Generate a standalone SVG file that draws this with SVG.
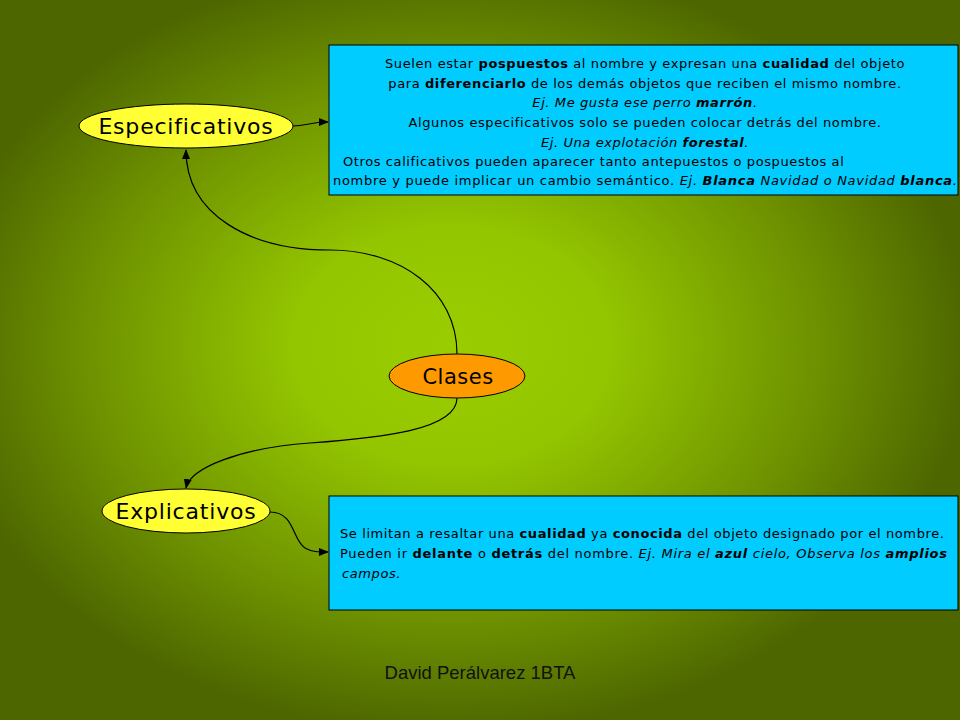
<svg xmlns="http://www.w3.org/2000/svg" width="960" height="720" viewBox="0 0 960 720">
<defs>
<radialGradient id="bg" cx="0.47" cy="0.48" r="0.54">
<stop offset="0" stop-color="#9acd00"/>
<stop offset="0.3" stop-color="#94c600"/>
<stop offset="0.7" stop-color="#6e9200"/>
<stop offset="1" stop-color="#4d6600"/>
</radialGradient>
<marker id="arr" markerWidth="10" markerHeight="8" refX="9" refY="4" orient="auto" markerUnits="userSpaceOnUse">
<path d="M0,0 L10,4 L0,8 Z" fill="#000"/>
</marker>
<style>
.node ellipse{stroke:#000;stroke-width:1}
.lbl{font-family:"DejaVu Sans","Liberation Sans",sans-serif;font-size:22px;letter-spacing:0.8px;fill:#000;text-anchor:middle}
.box{fill:#00ccff;stroke:#000;stroke-width:1}
.bt{font-family:"DejaVu Sans","Liberation Sans",sans-serif;font-size:13px;letter-spacing:0.6px;fill:#000}
.w{letter-spacing:0.7px}
.c{text-anchor:middle}
.b{font-weight:bold}
.i{font-style:italic}
.conn path{fill:none;stroke:#000;stroke-width:1.2;marker-end:url(#arr)}
</style>
</defs>
<rect width="960" height="720" fill="url(#bg)"/>
<g class="conn" id="connectors">
<path d="M457,354 C457,290 400,250 330,250 C250,250 186,215 186,150"/>
<path d="M457,398 C457,430 380,438 310,443 C240,448 190,468 186,488"/>
<path d="M293,126 C306,126 310,122 328,122"/>
<path d="M270,512 C295,512 292,540 305,548 C312,552 318,552 328,552"/>
</g>
<g id="especificativos" class="node">
<ellipse cx="186" cy="126" rx="107" ry="22" fill="#ffff33"/>
<text class="lbl" x="186" y="134">Especificativos</text>
</g>
<g id="clases" class="node">
<ellipse cx="457" cy="376" rx="68" ry="22" fill="#ff9900"/>
<text class="lbl" x="458" y="384" style="font-size:21px;letter-spacing:0.5px">Clases</text>
</g>
<g id="explicativos" class="node">
<ellipse cx="186" cy="511" rx="84" ry="22" fill="#ffff33"/>
<text class="lbl" x="186" y="519">Explicativos</text>
</g>
<g id="box-especificativos">
<rect class="box" x="329" y="45" width="629" height="150"/>
<text class="bt c" x="645" y="68">Suelen estar <tspan class="b">pospuestos</tspan> al nombre y expresan una <tspan class="b">cualidad</tspan>  del objeto</text>
<text class="bt c" x="645" y="88">para <tspan class="b">diferenciarlo</tspan> de los demás objetos que reciben el mismo nombre.</text>
<text class="bt c i" x="645" y="107">Ej. Me gusta ese perro <tspan class="b">marrón</tspan>.</text>
<text class="bt c" x="645" y="127">Algunos especificativos solo se pueden colocar detrás del nombre.</text>
<text class="bt c i" x="645" y="147">Ej. Una explotación <tspan class="b">forestal</tspan>.</text>
<text class="bt" x="343" y="166">Otros calificativos pueden aparecer tanto antepuestos o pospuestos al</text>
<text class="bt w" x="333" y="185">nombre y puede implicar un cambio semántico. <tspan class="i">Ej. <tspan class="b">Blanca</tspan>  Navidad o Navidad <tspan class="b">blanca</tspan>.</tspan></text>
</g>
<g id="box-explicativos">
<rect class="box" x="329" y="496" width="629" height="114"/>
<text class="bt" x="340" y="538">Se limitan a resaltar una <tspan class="b">cualidad</tspan>  ya <tspan class="b">conocida</tspan> del objeto designado por el nombre.</text>
<text class="bt w" x="340" y="558">Pueden ir <tspan class="b">delante</tspan>  o <tspan class="b">detrás</tspan> del nombre. <tspan class="i">Ej. Mira el <tspan class="b">azul</tspan>  cielo, Observa los <tspan class="b">amplios</tspan></tspan></text>
<text class="bt i" x="342" y="578">campos.</text>
</g>
<text x="480" y="679" font-family="'Liberation Sans',Arial,sans-serif" font-size="18.5" fill="#111" text-anchor="middle">David Perálvarez 1BTA</text>
</svg>
